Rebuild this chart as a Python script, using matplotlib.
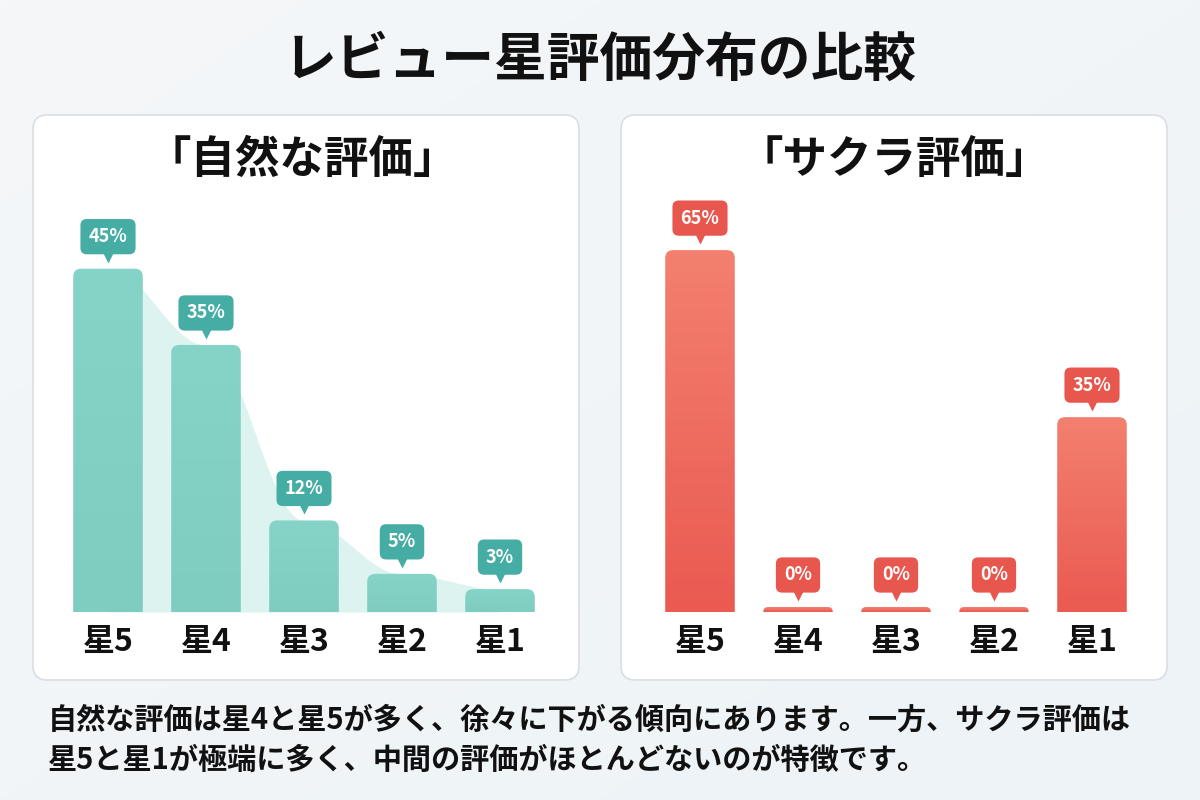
import numpy as np
import matplotlib
matplotlib.use('Agg')
import matplotlib.pyplot as plt
import matplotlib.transforms as mtransforms
from matplotlib.patches import FancyBboxPatch

plt.rcParams['font.family'] = ['Noto Sans CJK JP', 'DejaVu Sans']

# data
categories = ['星5', '星4', '星3', '星2', '星1']
natural = [45, 35, 12, 5, 3]
sakura = [65, 0, 0, 0, 35]

title = 'レビュー星評価分布の比較'
left_title = '「自然な評価」'
right_title = '「サクラ評価」'
note_lines = ['自然な評価は星4と星5が多く、徐々に下がる傾向にあります。一方、サクラ評価は',
              '星5と星1が極端に多く、中間の評価がほとんどないのが特徴です。']

W, H = 1200, 800
fig = plt.figure(figsize=(12, 8), dpi=100)
fig.patch.set_facecolor('#f1f5f8')

# soft background gradient
bg = fig.add_axes([0, 0, 1, 1], zorder=-10)
gy, gx = np.mgrid[0:1:200j, 0:1:300j]
bg.imshow(0.5 * gx + 0.5 * gy, cmap=matplotlib.colors.LinearSegmentedColormap.from_list(
    'bg', ['#f5f7f9', '#edf3f7']), aspect='auto', extent=[0, 1, 0, 1])
bg.axis('off')


def px(x, y):
    return x / W, 1 - y / H


def panel(x0, y0, x1, y1):
    fx0, fy1 = px(x0, y0)
    fx1, fy0 = px(x1, y1)
    p = FancyBboxPatch((fx0, fy0), fx1 - fx0, fy1 - fy0,
                       boxstyle='round,pad=0,rounding_size=0.012',
                       mutation_aspect=1.5, transform=fig.transFigure,
                       fc='white', ec='#d9dee4', lw=1.2, zorder=-5)
    fig.add_artist(p)


panel(33, 115, 579, 680)
panel(621, 115, 1167, 680)

fig.text(0.5, 1 - 60 / H, title, ha='center', va='center',
         fontsize=38, fontweight='bold', color='#111111')
fig.text(302 / W, 1 - 160 / H, left_title, ha='center', va='center',
         fontsize=32, fontweight='bold', color='#111111')
fig.text(894 / W, 1 - 160 / H, right_title, ha='center', va='center',
         fontsize=32, fontweight='bold', color='#111111')

for i, line in enumerate(note_lines):
    fig.text(48 / W, 1 - (720 + 40 * i) / H, line, ha='left', va='center',
             fontsize=21, fontweight='bold', color='#111111')


def bar_chart(ax, values, ymax, cols, label_col, area=None):
    n = len(values)
    xs = np.arange(n)
    ax.set_xlim(-0.5, n - 0.5)
    ax.set_ylim(0, ymax)
    bbox = ax.get_window_extent()
    xpp = n / bbox.width
    ypp = ymax / bbox.height
    asp = ypp / xpp
    bw = 0.71

    if area is not None:
        # smooth shaded band through the bar tops
        xd = np.linspace(0, n - 1, 300)
        yd = []
        for t in xd:
            k = min(int(t), n - 2)
            f = t - k
            f = (1 - np.cos(np.pi * f)) / 2
            yd.append(values[k] * (1 - f) + values[k + 1] * f)
        ax.fill_between(xd, 0, yd, color=area, alpha=0.45, lw=0, zorder=1)

    grad = np.linspace(0, 1, 100).reshape(-1, 1)
    cmap = matplotlib.colors.LinearSegmentedColormap.from_list('b', cols)
    for x, v in zip(xs, values):
        hpx = max(v / ypp, 5)
        r = 8 if hpx > 20 else 5
        h = hpx * ypp
        p = FancyBboxPatch((x - bw / 2, -r * ypp), bw, h + r * ypp,
                           boxstyle=f'round,pad=0,rounding_size={r * xpp}',
                           mutation_aspect=asp, fc='none', ec='none', zorder=2)
        ax.add_patch(p)
        im = ax.imshow(grad, cmap=cmap, aspect='auto', origin='upper',
                       extent=[x - bw / 2, x + bw / 2, 0, h], zorder=2)
        im.set_clip_path(p)

        tb = mtransforms.offset_copy(ax.transData, fig=fig, x=0, y=32, units='dots')
        ax.text(x, h, f'{v}%', transform=tb, ha='center', va='center',
                fontsize=13, fontweight='bold', color='white', zorder=5,
                bbox=dict(boxstyle='round,pad=0.45,rounding_size=0.35',
                          fc=label_col, ec='none'))
        tt = mtransforms.offset_copy(ax.transData, fig=fig, x=0, y=12, units='dots')
        ax.plot(x, h, marker='v', ms=9, color=label_col, mec='none',
                transform=tt, zorder=5, clip_on=False)

    ax.set_xlim(-0.5, n - 0.5)
    ax.set_ylim(0, ymax)
    ax.set_xticks(xs)
    ax.set_xticklabels(categories, fontsize=23, fontweight='bold', color='#111111')
    ax.tick_params(axis='x', length=0, pad=10)
    ax.set_yticks([])
    for s in ax.spines.values():
        s.set_visible(False)
    ax.patch.set_alpha(0)


ax1 = fig.add_axes([59 / W, 1 - 612 / H, 490 / W, 412 / H])
ax2 = fig.add_axes([651 / W, 1 - 612 / H, 490 / W, 412 / H])

bar_chart(ax1, natural, 54, ['#86d4c8', '#7fcdc0'], '#46ada4', area='#b5e5dd')
bar_chart(ax2, sakura, 74, ['#f3806f', '#ea5a51'], '#e8574e')

fig.savefig('out.png', dpi=100, facecolor=fig.get_facecolor())
